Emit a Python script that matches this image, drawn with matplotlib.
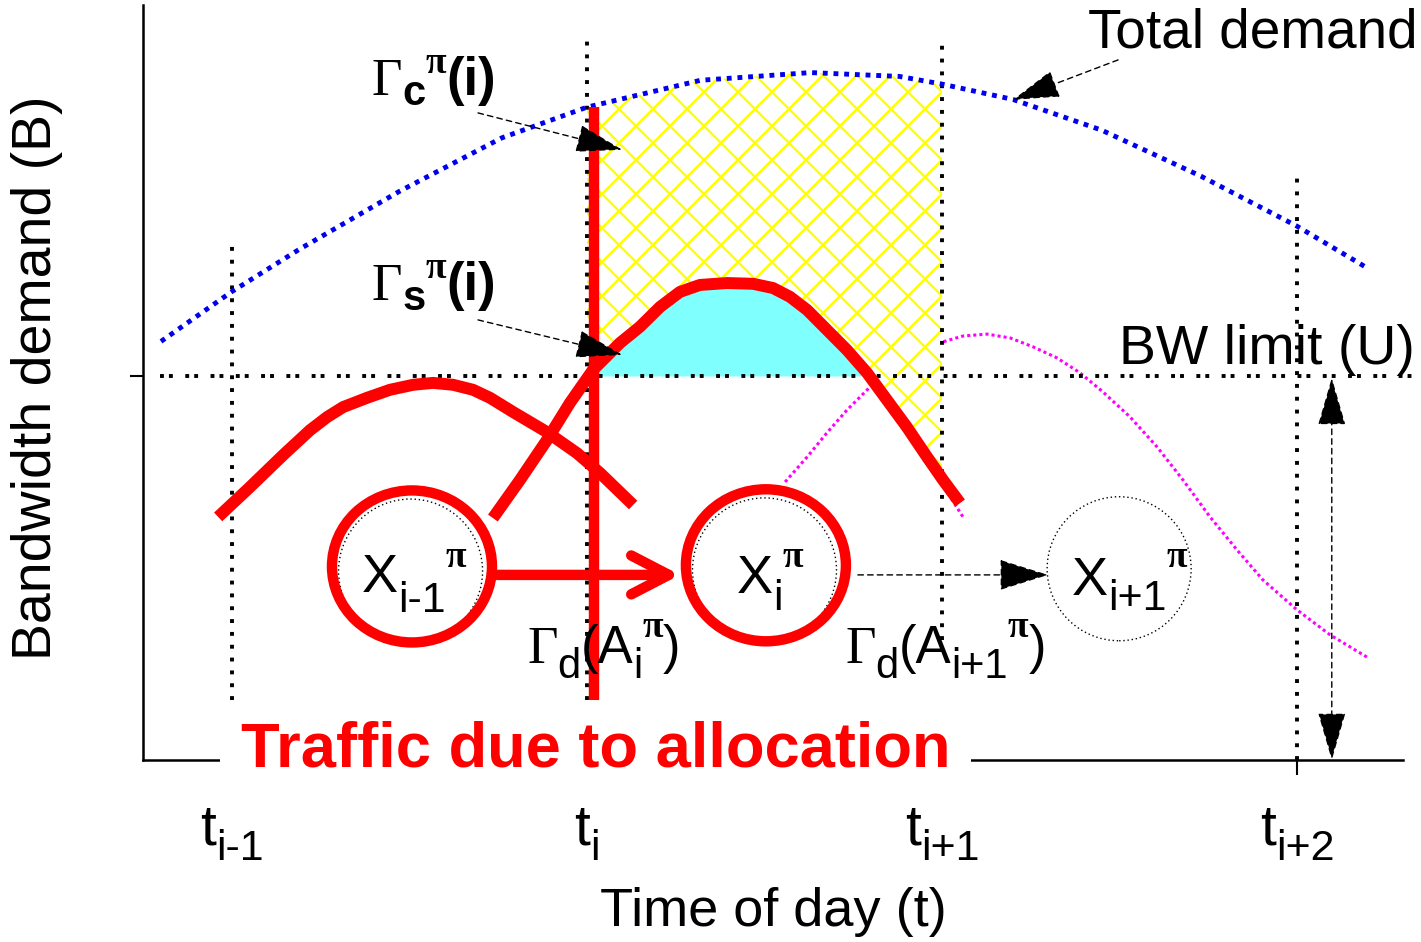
import matplotlib
matplotlib.use("Agg")
import matplotlib.pyplot as plt
import numpy as np
from matplotlib.patches import Ellipse, Polygon, FancyArrowPatch
from matplotlib.collections import LineCollection
from matplotlib.transforms import offset_copy

plt.rcParams['font.family'] = ['Liberation Sans', 'DejaVu Sans']
SANS = 'Liberation Sans'
SERIF = 'Liberation Serif'

# time axis: t_{i-1}=0 ... t_{i+2}=3, demand axis: BW limit U = 1
t_ticks = [0, 1, 2, 3]
t_subs = ['i-1', 'i', 'i+1', 'i+2']
U = 1.0

# total demand (blue dotted)
total_x = [-0.20, 0.0, 0.19, 0.47, 0.76, 1.0, 1.32, 1.63, 1.88, 2.0, 2.2, 2.45, 2.73, 3.0, 3.2]
total_y = [1.09, 1.22, 1.33, 1.48, 1.62, 1.70, 1.77, 1.79, 1.78, 1.76, 1.72, 1.64, 1.52, 1.39, 1.28]

# demand of allocation X_{i-1}
demA_x = [-0.039, 0.051, 0.144, 0.220, 0.268, 0.313, 0.380, 0.445, 0.510, 0.566, 0.623,
          0.679, 0.727, 0.792, 0.887, 0.972, 1.037, 1.130]
demA_y = [0.633, 0.711, 0.794, 0.859, 0.893, 0.919, 0.943, 0.964, 0.977, 0.982, 0.977,
          0.964, 0.943, 0.906, 0.854, 0.799, 0.747, 0.664]

# demand of allocation X_i
demB_x = [0.735, 0.811, 0.887, 0.952, 1.017, 1.093, 1.149, 1.206, 1.262, 1.318, 1.394, 1.468,
          1.524, 1.572, 1.620, 1.676, 1.732, 1.789, 1.845, 1.901, 1.958, 2.003, 2.051]
demB_y = [0.630, 0.729, 0.833, 0.930, 1.016, 1.086, 1.128, 1.180, 1.219, 1.237, 1.242, 1.240,
          1.229, 1.206, 1.172, 1.120, 1.068, 1.008, 0.9375, 0.867, 0.789, 0.729, 0.669]

# demand of allocation X_{i+1} (magenta dotted)
demC_x = [1.558, 1.620, 1.676, 1.732, 1.797, 2.003, 2.059, 2.127, 2.192, 2.256, 2.324, 2.389,
          2.454, 2.530, 2.606, 2.679, 2.755, 2.831, 2.904, 3.0, 3.093, 3.197]
demC_y = [0.724, 0.789, 0.852, 0.911, 0.971, 1.089, 1.104, 1.109, 1.099, 1.076, 1.047, 1.008,
          0.958, 0.893, 0.815, 0.729, 0.633, 0.547, 0.469, 0.391, 0.326, 0.268]
# magenta trace showing along the tail of X_i demand
demC2_x = [1.792, 1.851, 1.907, 1.963, 2.011, 2.059]
demC2_y = [0.995, 0.919, 0.849, 0.771, 0.703, 0.633]

# allocation states
state_x = [0.503, 1.50, 2.499]
state_y = [0.492, 0.495, 0.498]

alloc_x = 1.02
alloc_y = (0.156, 1.70)


fig = plt.figure(figsize=(14.21, 9.42), dpi=100)
ax = fig.add_axes([143 / 1421, 182 / 942, 1260 / 1421, 755 / 942])
ax.set_xlim(-0.2507, 3.2986)
ax.set_ylim(0, 1.966)
for s in ['top', 'right']:
    ax.spines[s].set_visible(False)
for s in ['left', 'bottom']:
    ax.spines[s].set_linewidth(1.8)
ax.set_xticks(t_ticks, [''] * 4)
ax.tick_params(axis='x', direction='out', length=11, width=1.5)
ax.set_yticks([U], [''])
ax.tick_params(axis='y', direction='out', length=9.5, width=1.5)
fig.canvas.draw()
renderer = fig.canvas.get_renderer()


def rich(x, y, parts, ha='left', zorder=9):
    # parts: (text, size, dy in px, family, weight) laid out one after another
    objs = []
    for s, size, dy, fam, wt in parts:
        t = ax.text(x, y, s, fontsize=size, family=fam, fontweight=wt,
                    ha='left', va='baseline', zorder=zorder)
        objs.append((t, dy, t.get_window_extent(renderer).width))
    total = sum(o[2] for o in objs)
    x0 = {'left': 0, 'center': -total / 2, 'right': -total}[ha]
    for t, dy, w in objs:
        t.set_transform(offset_copy(ax.transData, fig=fig, x=x0, y=dy, units='dots'))
        x0 += w


# magenta demand of next allocation
ax.plot(demC_x, demC_y, color='magenta', lw=2.2, ls=(0, (1, 1)), zorder=1)
ax.plot(demC2_x, demC2_y, color='magenta', lw=2.2, ls=(0, (1, 1)), zorder=4.5)

# hatched region (demand above the allocation during [t_i, t_i+1])
xs = np.linspace(1.0, 2.0, 300)
top = np.interp(xs, total_x, total_y)
yb = np.interp(xs, demB_x, demB_y)
bot = np.minimum(yb, U)
verts = np.column_stack([np.r_[xs, xs[::-1]], np.r_[top, bot[::-1]]])
hpoly = Polygon(verts, closed=True, facecolor='white', edgecolor='none', zorder=2)
ax.add_patch(hpoly)
inv = ax.transData.inverted()
d = 34
segs = []
for c in np.arange(-1200, 2600, d):
    segs.append(inv.transform([(c, 0), (c + 1200, 1200)]))
    segs.append(inv.transform([(c, 0), (c - 1200, 1200)]))
hatch = LineCollection(segs, colors='#FFFF00', linewidths=1.7, zorder=2.1)
ax.add_collection(hatch)
hatch.set_clip_path(hpoly)

# cyan region above BW limit
ax.fill_between(xs, U, yb, where=yb >= U, interpolate=True, color='#80FFFF', lw=0, zorder=3)

# dotted guide lines
vdot = dict(color='black', lw=2.8, ls=(0, (1, 2.3)), dash_capstyle='butt', zorder=4)
ax.plot([0, 0], [0.156, 1.354], **vdot)
ax.plot([1, 1], [0.156, 1.875], **vdot)
ax.plot([2, 2], [0.3125, 1.875], **vdot)
ax.plot([3, 3], [0.0, 1.523], **vdot)
ax.plot([-0.203, 3.346], [U, U], color='black', lw=2.8, ls=(0, (1, 1.3, 1, 3.2)),
        dash_capstyle='butt', zorder=4, clip_on=False)

# total demand
ax.plot(total_x, total_y, color='#0000EE', lw=3.5, ls=(0, (1, 1.2)), dash_capstyle='butt', zorder=4)

# red demand curves
ax.plot(demA_x, demA_y, color='red', lw=8.6, solid_capstyle='butt', solid_joinstyle='round', zorder=5)
ax.plot(demB_x, demB_y, color='red', lw=8.6, solid_capstyle='butt', solid_joinstyle='round', zorder=5)
ax.plot([alloc_x, alloc_x], alloc_y, color='red', lw=7.5, solid_capstyle='butt', zorder=6)

# allocation states
for k, (sx, sy) in enumerate(zip(state_x, state_y)):
    ax.add_patch(Ellipse((sx, sy), 2 * 72 / 355, 2 * 72 / 384, fill=False, ec='black',
                         lw=1, ls=(0, (1, 2)), zorder=6))
    if k < 2:
        ax.add_patch(Ellipse((sx + 0.004, sy + 0.012), 2 * 80 / 355, 2 * 76 / 384, fill=False,
                             ec='red', lw=7.5, zorder=7))

rich(0.366, 0.4375, [('X', 39, 0, SANS, 'normal'), ('i-1', 31, -20, SANS, 'normal'),
                     ('π', 27, 25, SERIF, 'bold')])
rich(1.423, 0.435, [('X', 39, 0, SANS, 'normal'), ('i', 31, -17, SANS, 'normal'),
                    ('π', 27, 26, SERIF, 'bold')])
rich(2.366, 0.430, [('X', 39, 0, SANS, 'normal'), ('i+1', 31, -15, SANS, 'normal'),
                    ('π', 27, 28, SERIF, 'bold')])

# transitions
ax.add_patch(FancyArrowPatch((0.746, 0.482), (1.262, 0.482),
                             arrowstyle='->,head_length=27,head_width=14', mutation_scale=1,
                             lw=7.5, color='red', shrinkA=0, shrinkB=0, zorder=7))
ax.add_patch(FancyArrowPatch((1.763, 0.482), (2.299, 0.482),
                             arrowstyle='-|>,head_length=32,head_width=10', mutation_scale=1,
                             lw=1, ls=(0, (4, 3)), color='black', shrinkA=0, shrinkB=0, zorder=7))
ax.add_patch(FancyArrowPatch((3.098, 0.995), (3.098, 0.0),
                             arrowstyle='<|-|>,head_length=31,head_width=9', mutation_scale=1,
                             lw=1, ls=(0, (4, 3)), color='black', shrinkA=0, shrinkB=0, zorder=7))

# pointers
for (p0, p1) in [((0.693, 1.685), (1.099, 1.589)), ((0.693, 1.146), (1.099, 1.055)),
                 ((2.496, 1.823), (2.2, 1.719))]:
    ax.add_patch(FancyArrowPatch(p0, p1, arrowstyle='-|>,head_length=30,head_width=9',
                                 mutation_scale=1, lw=1, ls=(0, (4, 3)), color='black',
                                 shrinkA=0, shrinkB=0, zorder=8))

# labels
for yy, sub in [(1.732, 'c'), (1.198, 's')]:
    rich(0.394, yy, [('Γ', 38, 0, SERIF, 'normal'), (sub, 30, -10, SANS, 'bold'),
                     ('π', 27, 22, SERIF, 'bold'), ('(i)', 38, 0, SANS, 'bold')])
rich(0.831, 0.253, [('Γ', 38, 0, SERIF, 'normal'), ('d', 30, -15, SANS, 'normal'),
                    ('(A', 38, 0, SANS, 'normal'), ('i', 30, -15, SANS, 'normal'),
                    ('π', 27, 26, SERIF, 'bold'), (')', 38, 0, SANS, 'normal')])
rich(1.727, 0.253, [('Γ', 38, 0, SERIF, 'normal'), ('d', 30, -15, SANS, 'normal'),
                    ('(A', 38, 0, SANS, 'normal'), ('i+1', 30, -15, SANS, 'normal'),
                    ('π', 27, 26, SERIF, 'bold'), (')', 38, 0, SANS, 'normal')])
ax.text(3.341, 1.893, 'Total demand', fontsize=39.5, ha='right', va='center')
ax.text(3.332, 1.068, 'BW limit (U)', fontsize=40, ha='right', va='center', zorder=9)
ax.text(1.025, 0.026, 'Traffic due to allocation', fontsize=45.5, fontweight='bold', color='red',
        ha='center', va='center', zorder=10,
        bbox=dict(boxstyle='square,pad=0.33', fc='white', ec='none'))

# time tick labels
for tx, sub in zip(t_ticks, t_subs):
    rich(tx, -0.221, [('t', 41, 0, SANS, 'normal'), (sub, 31, -15, SANS, 'normal')],
         ha='center', zorder=11)

fig.text(37 / 1421, 1 - 378 / 942, 'Bandwidth demand (B)', fontsize=40, rotation=90,
         ha='center', va='center')
fig.text(773 / 1421, 1 - 912 / 942, 'Time of day (t)', fontsize=39, ha='center', va='center')

fig.savefig('out.png', dpi=100)
